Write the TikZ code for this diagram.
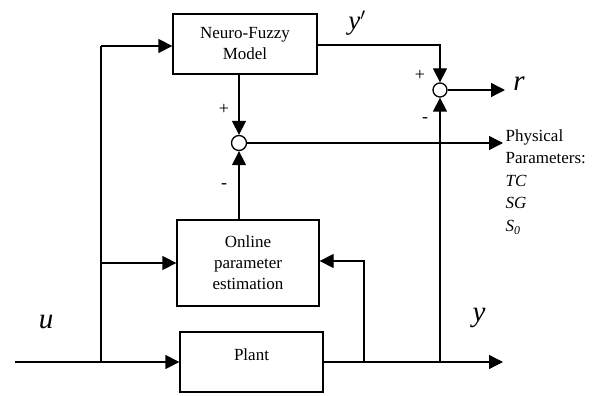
\documentclass[tikz,border=0pt]{standalone}
\usepackage{fontspec}
\setmainfont{Liberation Serif}
\usetikzlibrary{arrows.meta}
\begin{document}
\begin{tikzpicture}[x=1pt,y=-1pt,
  line width=1.3pt,
  tip/.style={-{Triangle[length=14pt,width=14pt]}},
  blockbox/.style={draw,rectangle,inner sep=0pt,align=center,
    font=\fontsize{17}{21}\selectfont},
  junction/.style={draw,circle,inner sep=0pt,minimum size=15pt},
  sign/.style={font=\fontsize{18}{18}\selectfont},
  signal/.style={font=\fontsize{29}{29}\selectfont\itshape},
  outtext/.style={align=left,anchor=north west,inner sep=0pt,
    font=\fontsize{17}{22.5}\selectfont}]
\useasboundingbox (0,0) rectangle (606,396);

% blocks
\node[blockbox,minimum width=144pt,minimum height=60pt] (nf) at (245,44) {Neuro-Fuzzy\\Model};
\node[blockbox,minimum width=142pt,minimum height=86pt] (ope) at (248,263) {Online\\parameter\\estimation};
\node[blockbox,minimum width=143pt,minimum height=60pt] (plant) at (251.5,362) {};
\node[font=\fontsize{17}{21}\selectfont] (plantlabel) at (251.5,355) {Plant};

% summing junctions
\node[junction] (s1) at (239,143) {};
\node[junction,minimum size=14pt] (s2) at (440,90) {};

% helper points
\coordinate (uin) at (15,362);
\coordinate (usplit) at (101,362);
\coordinate (utop) at (101,46);
\coordinate (umid) at (101,263);
\coordinate (yout) at (503,362);
\coordinate (yfb) at (364,362);
\coordinate (ymeas) at (440,362);
\coordinate (rout) at (505,90);
\coordinate (pout) at (503,143);

% input distribution
\draw[tip] (uin) -- (plant.west |- uin);
\draw (usplit) -- (utop);
\draw[tip] (utop) -- (nf.west |- utop);
\draw[tip] (umid) -- (ope.west |- umid);

% plant output and feedback
\draw[tip] (plant.east |- yout) -- (yout);
\draw[tip] (yfb) -- (364,261) -- (ope.east |- 0,261);
\draw[tip] (ymeas) -- (s2.south);

% model output to the residual junction
\draw[tip] (nf.east |- 0,45) -- (440,45) -- (s2.north);
\draw[tip] (s2.east) -- (rout);

% parameter comparison
\draw[tip] (nf.south -| s1) -- (s1.north);
\draw[tip] (ope.north -| s1) -- (s1.south);
\draw[tip] (s1.east) -- (pout);

% signs
\node[sign] (s1plus) at (224,109) {+};
\node[sign] (s1minus) at (224,186) {-};
\node[sign] (s2plus) at (420,75) {+};
\node[sign] (s2minus) at (425,120) {-};

% signal labels
\node[signal] (ulabel) at (46,322) {u};
\node[signal] (ylabel) at (479,318) {y};
\node[signal] (rlabel) at (519,84) {r};
\node[signal,font=\fontsize{27}{27}\selectfont\itshape] (yplabel) at (357,23) {y$'$};

% parameter list
\node[outtext] (plist) at (505,129) {Physical\\Parameters:\\\textit{TC}\\\textit{SG}\\\textit{S}\textsubscript{\textit{0}}};
\end{tikzpicture}
\end{document}
